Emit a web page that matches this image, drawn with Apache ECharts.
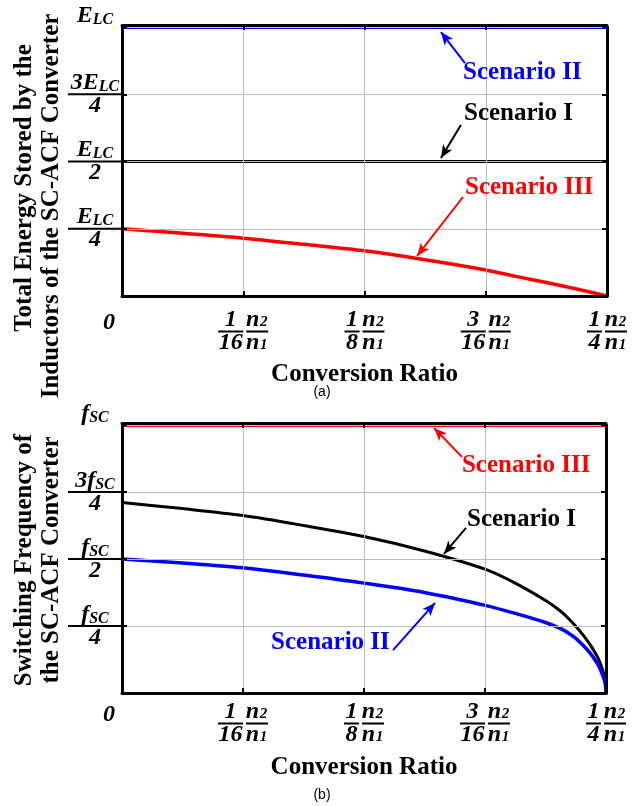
<!DOCTYPE html>
<html><head><meta charset="utf-8">
<script src="https://cdn.jsdelivr.net/npm/echarts@6/dist/echarts.min.js"></script>
<style>html,body{margin:0;padding:0;background:#fff}#c{width:643px;height:806px}</style>
</head><body><div id="c"></div>
<script>
// ---------- data ----------
const ratioTicks = [0, 1/16, 1/8, 3/16, 1/4];
const xNum = ['0', '1', '1', '3', '1'];
const xDen = ['', '16', '8', '16', '4'];
const yTicks = [0, 0.25, 0.5, 0.75, 1];
const yNumA = ['', 'E', 'E', '3E', 'E'];
const yNumB = ['', 'f', 'f', '3f', 'f'];
const yDen = ['', '4', '2', '4', ''];
const subA = 'LC';
const subB = 'SC';

// panel (a): total energy stored (units of E_LC)
const ratioFlat = [0, 0.25];
const energyScenI = [0.5, 0.5];
const energyScenII = [1, 1];
const ratioA3 = [0, 0.03125, 0.0625, 0.09375, 0.125, 0.15625, 0.1875, 0.2031, 0.2188, 0.2344, 0.25];
const energyScenIII = [0.25, 0.233, 0.215, 0.192, 0.168, 0.135, 0.097, 0.073, 0.05, 0.026, 0];

// panel (b): switching frequency (units of f_SC)
const ratioB = [0, 0.03125, 0.0625, 0.09375, 0.125, 0.15625, 0.1875, 0.2031, 0.2188, 0.2266, 0.2305, 0.2344, 0.2383, 0.2422, 0.2461, 0.2490, 0.2497, 0.25];
const freqScenI = [0.711, 0.688, 0.662, 0.625, 0.584, 0.53, 0.462, 0.41, 0.345, 0.305, 0.279, 0.249, 0.215, 0.176, 0.127, 0.068, 0.04, 0];
const freqScenII = [0.5, 0.485, 0.467, 0.44, 0.41, 0.375, 0.327, 0.297, 0.263, 0.24, 0.224, 0.204, 0.177, 0.145, 0.103, 0.052, 0.03, 0];
const freqScenIII = [1, 1];

// annotations (data coordinates): text anchor, arrow start, arrow tip
const annotA = {
  II:  {text: 'Scenario II',  at: [0.1758, 0.829], from: [0.1768, 0.866], to: [0.1644, 0.981]},
  I:   {text: 'Scenario I',   at: [0.1763, 0.677], from: [0.1747, 0.636], to: [0.1644, 0.513]},
  III: {text: 'Scenario III', at: [0.1768, 0.405], from: [0.1758, 0.368], to: [0.1521, 0.149]}
};
const annotB = {
  III: {text: 'Scenario III', at: [0.1756, 0.847], from: [0.1756, 0.881], to: [0.1612, 0.989]},
  I:   {text: 'Scenario I',   at: [0.1782, 0.646], from: [0.1777, 0.616], to: [0.1663, 0.519]},
  II:  {text: 'Scenario II',  at: [0.0770, 0.187], from: [0.1400, 0.160], to: [0.1617, 0.336]}
};

// ---------- helpers ----------
const serif = "'Liberation Serif','Times New Roman',serif";
const zip = (xs, ys) => xs.map((x, i) => [x, ys[i]]);
const idxOf = (arr, v) => arr.findIndex(t => Math.abs(t - v) < 1e-9);
const BLUE = '#0000ff', RED = '#ff0000', BLACK = '#000000';

const ff = {fontFamily: serif, fontWeight: 'bold', fontStyle: 'italic', color: '#000'};
const barTok = w => ({width: w, height: 2, lineHeight: 3, fontSize: 1, backgroundColor: '#000', align: 'center'});
const xRich = {
  zero: Object.assign({}, ff, {fontSize: 24, lineHeight: 24, padding: [2, 26, 0, 0]}),
  d1: Object.assign({}, ff, {fontSize: 24, lineHeight: 20, width: 15, align: 'center'}),
  d2: Object.assign({}, ff, {fontSize: 24, lineHeight: 20, width: 25, align: 'center'}),
  g: {width: 3, fontSize: 1, lineHeight: 3, align: 'center'},
  n: Object.assign({}, ff, {fontSize: 24, lineHeight: 20, width: 13, align: 'center'}),
  s: Object.assign({}, ff, {fontSize: 15, lineHeight: 15, width: 9, align: 'center', verticalAlign: 'bottom', padding: [7, 0, 0, 0]}),
  b1: barTok(15), b2: barTok(25), bn: barTok(22)
};
function xFmt(v) {
  const i = idxOf(ratioTicks, v);
  if (i < 0) return '';
  if (i === 0) return '{zero|' + xNum[0] + '}';
  const w = xDen[i].length > 1 ? '2' : '1';
  return '{d' + w + '|' + xNum[i] + '}{g| }{n|n}{s|2}\n' +
         '{b' + w + '| }{g| }{bn| }\n' +
         '{d' + w + '|' + xDen[i] + '}{g| }{n|n}{s|1}';
}
const yRich = {
  num: Object.assign({}, ff, {fontSize: 24, lineHeight: 20, align: 'center'}),
  sub: Object.assign({}, ff, {fontSize: 16, lineHeight: 16, align: 'center', verticalAlign: 'top', padding: [6, 0, 0, 0]}),
  bar: Object.assign(barTok(54), {lineHeight: 3}),
  sp: {width: 54, height: 2, lineHeight: 3, fontSize: 1, align: 'center'},
  den: Object.assign({}, ff, {fontSize: 24, lineHeight: 20, align: 'center'})
};
function yFmt(nums, sub) {
  return function (v) {
    const i = idxOf(yTicks, v);
    if (i <= 0) return '';
    if (yDen[i] === '') return '{num|' + nums[i] + '}{sub|' + sub + '}\n{sp| }\n{num| }';
    return '{num|' + nums[i] + '}{sub|' + sub + '}\n{bar| }\n{den|' + yDen[i] + '}';
  };
}

const frameLine = {show: true, onZero: false, lineStyle: {color: '#000', width: 3}};
const inTick = {show: true, inside: true, length: 5, lineStyle: {color: '#000', width: 2}};
const grid = {show: true, lineStyle: {color: '#bdbdbd', width: 1}};

function xPair(gi, nameGap, margin) {
  return [{
    type: 'value', gridIndex: gi, position: 'bottom', min: 0, max: 0.25, interval: 0.0625, z: 3,
    axisLine: frameLine, axisTick: inTick, splitLine: grid,
    axisLabel: {margin: margin, formatter: xFmt, rich: xRich, showMinLabel: true, showMaxLabel: true, hideOverlap: false},
    name: 'Conversion Ratio', nameLocation: 'middle', nameGap: nameGap,
    nameTextStyle: {fontFamily: serif, fontWeight: 'bold', fontSize: 25, color: '#000'}
  }, {
    type: 'value', gridIndex: gi, position: 'top', offset: 2, min: 0, max: 0.25, interval: 0.0625, z: 3,
    axisLine: frameLine, axisTick: inTick, splitLine: {show: false}, axisLabel: {show: false}
  }];
}
function yPair(gi, nums, sub) {
  return [{
    type: 'value', gridIndex: gi, position: 'left', min: 0, max: 1, interval: 0.25, z: 3,
    axisLine: frameLine, axisTick: inTick, splitLine: grid,
    axisLabel: {margin: 0, formatter: yFmt(nums, sub), rich: yRich, showMinLabel: true, showMaxLabel: true}
  }, {
    type: 'value', gridIndex: gi, position: 'right', min: 0, max: 1, interval: 0.25, z: 3,
    axisLine: frameLine, axisTick: inTick, splitLine: {show: false}, axisLabel: {show: false}
  }];
}

function annot(a, color) {
  return {
    markPoint: {
      silent: true, symbol: 'circle', symbolSize: 0, animation: false,
      data: [{coord: a.at, label: {show: true, formatter: a.text, position: 'right', distance: 0,
        color: color, fontFamily: serif, fontWeight: 'bold', fontSize: 25}}]
    },
    markLine: {
      silent: true, animation: false, symbol: ['none', 'arrow'], symbolSize: [8, 13],
      label: {show: false}, lineStyle: {color: color, width: 2, type: 'solid'},
      emphasis: {disabled: true},
      data: [[{coord: a.from}, {coord: a.to}]]
    }
  };
}
function line(name, xi, yi, data, color, width, extra, smooth) {
  return Object.assign({
    type: 'line', name: name, xAxisIndex: xi, yAxisIndex: yi, data: data, showSymbol: false, symbol: 'none',
    smooth: smooth ? 0.3 : false, z: 2,
    lineStyle: {color: color, width: width}, itemStyle: {color: color}
  }, extra || {});
}

const chart = echarts.init(document.getElementById('c'), null, {renderer: 'canvas'});
chart.setOption({
  animation: false,
  backgroundColor: '#fff',
  grid: [
    {left: 122, top: 27, width: 485, height: 269},
    {left: 122, top: 425, width: 484, height: 268}
  ],
  xAxis: [].concat(xPair(0, 66, 14), xPair(1, 62, 9)),
  yAxis: [].concat(yPair(0, yNumA, subA), yPair(1, yNumB, subB)),
  series: [
    line('Scenario II', 0, 0, zip(ratioFlat, energyScenII), BLUE, 4, annot(annotA.II, BLUE)),
    line('Scenario I', 0, 0, zip(ratioFlat, energyScenI), BLACK, 3, annot(annotA.I, BLACK)),
    line('Scenario III', 0, 0, zip(ratioA3, energyScenIII), RED, 3.5, annot(annotA.III, RED), true),
    line('Scenario III', 2, 2, zip(ratioFlat, freqScenIII), RED, 4, annot(annotB.III, RED)),
    line('Scenario I', 2, 2, zip(ratioB, freqScenI), BLACK, 3, annot(annotB.I, BLACK), true),
    line('Scenario II', 2, 2, zip(ratioB, freqScenII), BLUE, 3.5, annot(annotB.II, BLUE), true)
  ],
  graphic: [
    {type: 'text', x: 25, y: 188, rotation: Math.PI / 2,
     style: {text: 'Total Energy Stored by the', font: 'bold 25px ' + serif, fill: '#000', align: 'center', verticalAlign: 'middle'}},
    {type: 'text', x: 52, y: 206, rotation: Math.PI / 2,
     style: {text: 'Inductors of the SC-ACF Converter', font: 'bold 25px ' + serif, fill: '#000', align: 'center', verticalAlign: 'middle'}},
    {type: 'text', x: 25, y: 560, rotation: Math.PI / 2,
     style: {text: 'Switching Frequency of', font: 'bold 25px ' + serif, fill: '#000', align: 'center', verticalAlign: 'middle'}},
    {type: 'text', x: 52, y: 560, rotation: Math.PI / 2,
     style: {text: 'the SC-ACF Converter', font: 'bold 25px ' + serif, fill: '#000', align: 'center', verticalAlign: 'middle'}},
    {type: 'text', x: 322, y: 392,
     style: {text: '(a)', font: '14px "Liberation Sans", Arial, sans-serif', fill: '#000', align: 'center', verticalAlign: 'middle'}},
    {type: 'text', x: 322, y: 795,
     style: {text: '(b)', font: '14px "Liberation Sans", Arial, sans-serif', fill: '#000', align: 'center', verticalAlign: 'middle'}}
  ]
});
</script>
</body></html>
